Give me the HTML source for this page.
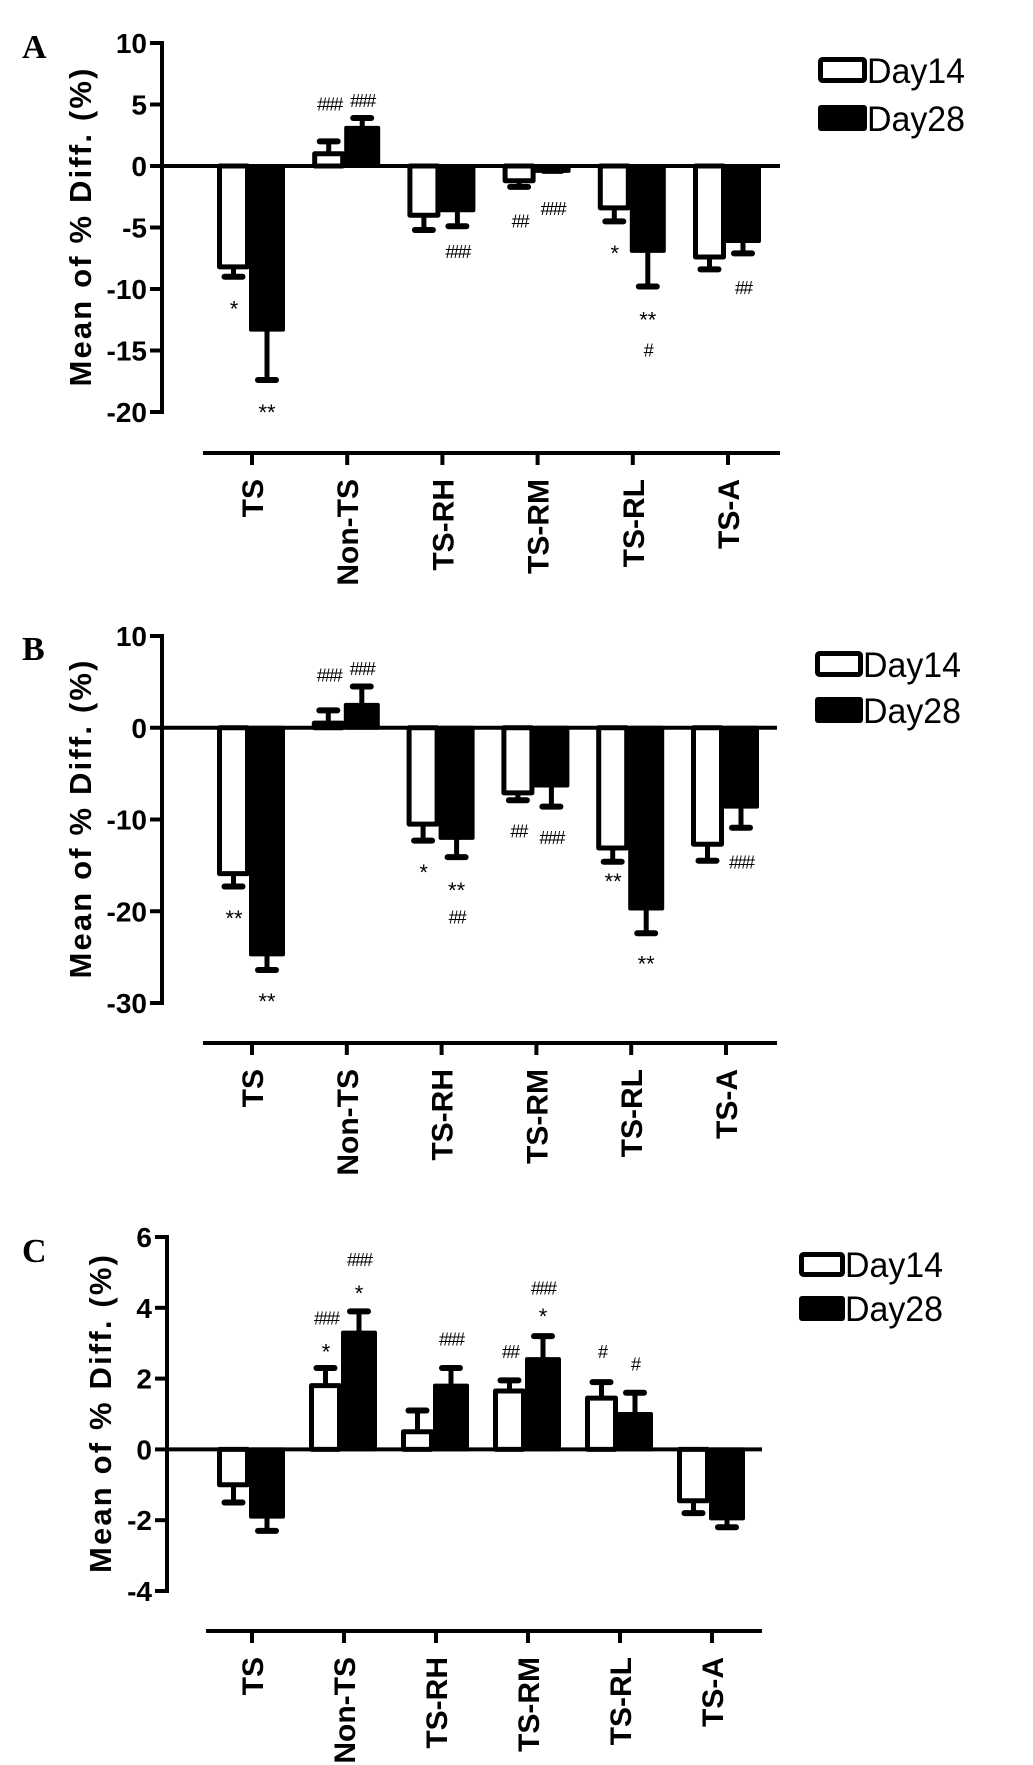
<!DOCTYPE html>
<html><head><meta charset="utf-8"><style>
html,body{margin:0;padding:0;background:#fff;}
svg{display:block;font-family:"Liberation Sans",Arial,sans-serif;}
</style></head><body>
<svg id="fig" width="1033" height="1765" viewBox="0 0 1033 1765" xmlns="http://www.w3.org/2000/svg"></svg>
<script>
const categories = ["TS","Non-TS","TS-RH","TS-RM","TS-RL","TS-A"];
// Panel A
const aDay14 = [-8.2, 1.0, -4.0, -1.2, -3.4, -7.4];
const aDay14Err = [-9.0, 2.0, -5.2, -1.7, -4.5, -8.4];
const aDay28 = [-13.3, 3.1, -3.6, -0.4, -6.9, -6.1];
const aDay28Err = [-17.4, 3.9, -4.9, -0.4, -9.8, -7.1];
const aTicks = [10, 5, 0, -5, -10, -15, -20];
const aNotes = [[0,0,"*",-11.5],[0,1,"**",-19.9],[1,0,"###",5.0],[1,1,"###",5.3],[2,1,"###",-7.0],[3,0,"##",-4.5],[3,1,"###",-3.5],[4,0,"*",-7.0],[4,1,"**",-12.4],[4,1,"#",-15.0],[5,1,"##",-9.9]];
// Panel B
const bDay14 = [-15.9, 0.5, -10.5, -7.1, -13.1, -12.7];
const bDay14Err = [-17.3, 1.9, -12.3, -7.9, -14.6, -14.5];
const bDay28 = [-24.7, 2.5, -12.0, -6.3, -19.7, -8.6];
const bDay28Err = [-26.4, 4.5, -14.1, -8.6, -22.4, -10.9];
const bTicks = [10, 0, -10, -20, -30];
const bNotes = [[0,0,"**",-20.6],[0,1,"**",-29.7],[1,0,"###",5.7],[1,1,"###",6.4],[2,0,"*",-15.6],[2,1,"**",-17.6],[2,1,"##",-20.7],[3,0,"##",-11.3],[3,1,"###",-12.0],[4,0,"**",-16.6],[4,1,"**",-25.6],[5,1,"###",-14.7]];
// Panel C
const cDay14 = [-1.0, 1.8, 0.5, 1.65, 1.45, -1.45];
const cDay14Err = [-1.5, 2.3, 1.1, 1.95, 1.9, -1.8];
const cDay28 = [-1.9, 3.3, 1.8, 2.55, 1.0, -1.95];
const cDay28Err = [-2.3, 3.9, 2.3, 3.2, 1.6, -2.2];
const cTicks = [6, 4, 2, 0, -2, -4];
const cNotes = [[1,0,"*",2.8],[1,0,"###",3.7],[1,1,"*",4.45],[1,1,"###",5.35],[2,1,"###",3.1],[3,0,"##",2.75],[3,1,"*",3.8],[3,1,"###",4.55],[4,0,"#",2.75],[4,1,"#",2.4]];

const NS="http://www.w3.org/2000/svg";
const svg=document.getElementById('fig');
function mk(tag,attrs,parent){const e=document.createElementNS(NS,tag);for(const k in attrs)e.setAttribute(k,attrs[k]);(parent||svg).appendChild(e);return e;}

const panels=[
 {key:"a",letter:"A",lx:22,ly:58,axisX:162,yTop:10,yBot:-20,pTop:43,pBot:412,catY:453,catX0:203,x0:252,dx:95.2,right:780,
  d14:aDay14,e14:aDay14Err,d28:aDay28,e28:aDay28Err,ticks:aTicks,notes:aNotes,titleX:80,
  leg:{x:818,w:49,y1:57,y2:105,h:26}},
 {key:"b",letter:"B",lx:22,ly:660,axisX:162,yTop:10,yBot:-30,pTop:636,pBot:1003,catY:1043,catX0:203,x0:252,dx:94.8,right:777,
  d14:bDay14,e14:bDay14Err,d28:bDay28,e28:bDay28Err,ticks:bTicks,notes:bNotes,titleX:80,
  leg:{x:815,w:48,y1:651,y2:697,h:26}},
 {key:"c",letter:"C",lx:22,ly:1262,axisX:167,yTop:6,yBot:-4,pTop:1237,pBot:1591,catY:1631,catX0:206,x0:252,dx:92,right:762,
  d14:cDay14,e14:cDay14Err,d28:cDay28,e28:cDay28Err,ticks:cTicks,notes:cNotes,titleX:100,
  leg:{x:799,w:46,y1:1252,y2:1296,h:25}}
];

panels.forEach(p=>{
  const g=mk('g',{});
  
  
  const y=v=>p.pTop+(p.yTop-v)/(p.yTop-p.yBot)*(p.pBot-p.pTop);
  const y0=y(0);
  const L=mk('text',{x:p.lx,y:p.ly,'font-family':'"Liberation Serif",serif','font-weight':'bold','font-size':34},g);
  L.textContent=p.letter;
  
  
  const ya=mk('line',{x1:p.axisX,y1:p.pTop-2,x2:p.axisX,y2:p.pBot+2,stroke:'#000','stroke-width':4},g);
  
  
  p.ticks.forEach(t=>{
    const ty=y(t);
    const tl=mk('line',{x1:p.axisX-12,y1:ty,x2:p.axisX,y2:ty,stroke:'#000','stroke-width':4},g);
    
    
    const tx=mk('text',{x:p.axisX-15,y:ty+10,'text-anchor':'end','font-weight':'bold','font-size':28},g);
    tx.textContent=String(t);
    
    
  });
  const cy=(p.pTop+p.pBot)/2;
  const tt=mk('text',{x:p.titleX,y:cy,'text-anchor':'middle','font-weight':'bold','font-size':31,transform:`rotate(-90 ${p.titleX} ${cy})`,dy:11,textLength:318,lengthAdjust:'spacing'},g);
  tt.textContent='Mean of % Diff. (%)';
  
  
  categories.forEach((c,i)=>{
    const cx=p.x0+i*p.dx;
    const bw=33;
    const v1=p.d14[i], e1=p.e14[i];
    const bx1=cx-35, bc1=bx1+bw/2;
    const er1=mk('line',{x1:bc1,y1:y(v1),x2:bc1,y2:y(e1),stroke:'#000','stroke-width':5},g);
    
    
    const cap1=mk('line',{x1:bc1-9,y1:y(e1),x2:bc1+9,y2:y(e1),stroke:'#000','stroke-width':6,'stroke-linecap':'round'},g);
    
    
    const top1=Math.min(y(v1),y0), h1=Math.abs(y(v1)-y0);
    const r1=mk('rect',{x:bx1+2.5,y:top1,width:bw-5,height:Math.max(h1,1),fill:'#fff',stroke:'#000','stroke-width':5,'stroke-linejoin':'round'},g);
    
    
    const v2=p.d28[i], e2=p.e28[i];
    const bx2=cx-3, bc2=bx2+(bw+3)/2;
    const er2=mk('line',{x1:bc2,y1:y(v2),x2:bc2,y2:y(e2),stroke:'#000','stroke-width':5},g);
    
    
    const cap2=mk('line',{x1:bc2-9,y1:y(e2),x2:bc2+9,y2:y(e2),stroke:'#000','stroke-width':6,'stroke-linecap':'round'},g);
    
    
    const top2=Math.min(y(v2),y0)-2, h2=Math.abs(y(v2)-y0)+4;
    const r2=mk('rect',{x:bx2,y:top2,width:bw+3,height:h2,fill:'#000',rx:2},g);
    
    
  });
  const zl=mk('line',{x1:p.axisX,y1:y0,x2:p.right,y2:y0,stroke:'#000','stroke-width':4},g);
  
  
  p.notes.forEach(n=>{
    const cx=p.x0+n[0]*p.dx + (n[1]===0?-18:15);
    const isStar=n[2].indexOf('*')>=0;
    const t=mk('text',{x:cx,y:y(n[3])+(isStar?9:6),'text-anchor':'middle','font-family':'"Liberation Sans",sans-serif','font-size':isStar?22:18,'letter-spacing':isStar?0:-2},g);
    t.textContent=n[2];
    
    
  });
  const ca=mk('line',{x1:p.catX0,y1:p.catY,x2:p.right,y2:p.catY,stroke:'#000','stroke-width':4},g);
  
  
  categories.forEach((c,i)=>{
    const cx=p.x0+i*p.dx;
    const tk=mk('line',{x1:cx,y1:p.catY,x2:cx,y2:p.catY+12,stroke:'#000','stroke-width':4},g);
    
    
    const ly=p.catY+26;
    const t=mk('text',{x:cx+11,y:ly,'text-anchor':'end','font-weight':'bold','font-size':30,transform:`rotate(-90 ${cx+11} ${ly})`},g);
    t.textContent=c;
    
    
  });
  const lg=p.leg;
  const b1=mk('rect',{x:lg.x+2.5,y:lg.y1+2.5,width:lg.w-5,height:lg.h-5,fill:'#fff',stroke:'#000','stroke-width':5,rx:2},g);
  
  
  const t1=mk('text',{x:lg.x+lg.w,y:lg.y1+lg.h,'font-size':35,textLength:98,lengthAdjust:'spacingAndGlyphs'},g);
  t1.textContent='Day14';
  
  
  const b2=mk('rect',{x:lg.x,y:lg.y2,width:lg.w,height:lg.h,fill:'#000',rx:3},g);
  
  
  const t2=mk('text',{x:lg.x+lg.w,y:lg.y2+lg.h,'font-size':35,textLength:98,lengthAdjust:'spacingAndGlyphs'},g);
  t2.textContent='Day28';
  
  
});
</script>
</body></html>
